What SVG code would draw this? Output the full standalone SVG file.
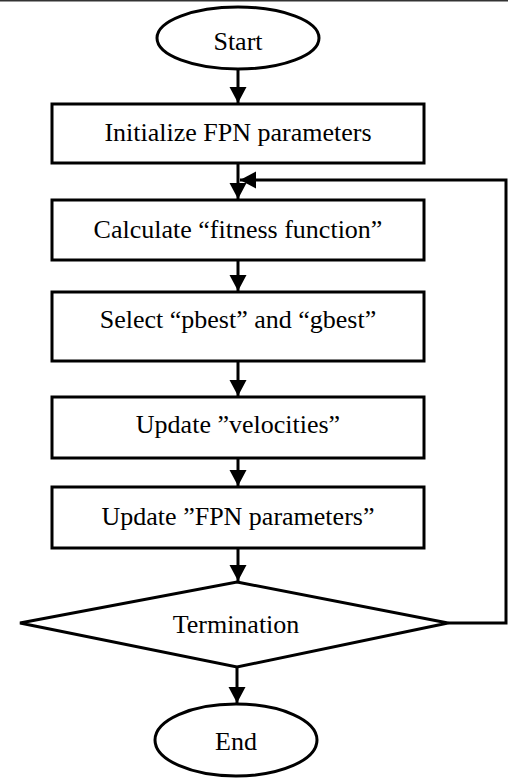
<svg xmlns="http://www.w3.org/2000/svg" width="508" height="778" viewBox="0 0 508 778">
<defs>
<style>
.shape{fill:#fff;stroke:#000;stroke-width:3}
.lbl{font-family:"Liberation Serif","Times New Roman",serif;font-size:26px;fill:#000;text-anchor:middle}
.conn{fill:none;stroke:#000;stroke-width:3}
</style>
<marker id="arr" markerUnits="userSpaceOnUse" markerWidth="18" markerHeight="18" viewBox="0 0 18 18" refX="16" refY="9" orient="auto">
<path d="M0,0.5 L16,9 L0,17.5 Z" fill="#000"/>
</marker>
</defs>
<rect width="508" height="778" fill="#fff"/>
<line x1="0" y1="0.8" x2="508" y2="0.8" stroke="#333" stroke-width="1.6"/>
<g id="connectors">
<line class="conn" x1="238" y1="70" x2="238" y2="103" marker-end="url(#arr)"/>
<line class="conn" x1="238" y1="163" x2="238" y2="199" marker-end="url(#arr)"/>
<polyline class="conn" points="448,623 506,623 506,180 240,180" marker-end="url(#arr)"/>
<line class="conn" x1="238" y1="260" x2="238" y2="291" marker-end="url(#arr)"/>
<line class="conn" x1="238" y1="361" x2="238" y2="396" marker-end="url(#arr)"/>
<line class="conn" x1="238" y1="458" x2="238" y2="486" marker-end="url(#arr)"/>
<line class="conn" x1="238" y1="548" x2="238" y2="581" marker-end="url(#arr)"/>
<line class="conn" x1="237" y1="667" x2="237" y2="703" marker-end="url(#arr)"/>
</g>
<g id="start">
<ellipse class="shape" cx="238" cy="38" rx="81" ry="31"/>
<text class="lbl" x="238" y="50">Start</text>
</g>
<g id="init">
<rect class="shape" x="52" y="104" width="372" height="59"/>
<text class="lbl" x="238" y="141">Initialize FPN parameters</text>
</g>
<g id="fitness">
<rect class="shape" x="52" y="200" width="372" height="60"/>
<text class="lbl" x="238" y="238">Calculate “fitness function”</text>
</g>
<g id="select">
<rect class="shape" x="52" y="292" width="372" height="69"/>
<text class="lbl" x="238" y="328">Select “pbest” and “gbest”</text>
</g>
<g id="velocities">
<rect class="shape" x="52" y="397" width="372" height="61"/>
<text class="lbl" x="238" y="433">Update ”velocities”</text>
</g>
<g id="params">
<rect class="shape" x="52" y="487" width="372" height="61"/>
<text class="lbl" x="238" y="525">Update ”FPN parameters”</text>
</g>
<g id="termination">
<polygon class="shape" points="237,582 448,623 237,667 20,623"/>
<text class="lbl" x="236" y="633">Termination</text>
</g>
<g id="end">
<ellipse class="shape" cx="236" cy="740" rx="81" ry="36"/>
<text class="lbl" x="236" y="750">End</text>
</g>
</svg>
